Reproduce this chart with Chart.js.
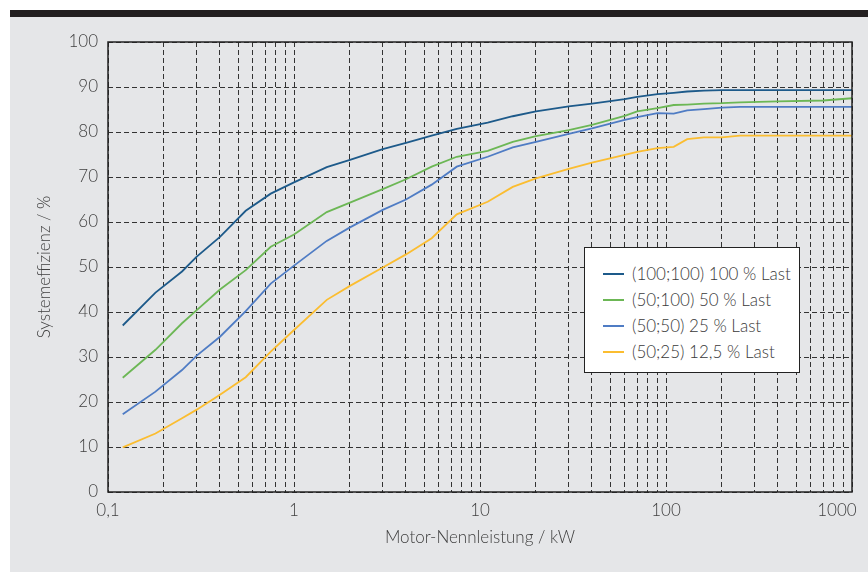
<!DOCTYPE html>
<html>
<head>
<meta charset="utf-8">
<script src="https://cdn.jsdelivr.net/npm/chart.js@4.4.1/dist/chart.umd.min.js"></script>
<style>
  body { margin: 0; background: #fff; }
  #bar { position: absolute; left: 10px; top: 10px; width: 858px; height: 7px; background: #231f20; }
  #panel { position: absolute; left: 10px; top: 17px; width: 858px; height: 555px; background: #e5e6e8; }
  #wrap { position: absolute; left: 0; top: 0; width: 868px; height: 572px; }
  #legend { position: absolute; left: 584px; top: 247px; width: 214px; height: 124px; border: 1px solid #222;
            background: #fff; font-family: Lato, sans-serif; font-size: 17px; font-weight: 300; color: #3a3a3a; box-sizing: content-box; }
  #legend div { position: absolute; left: 0; height: 20px; line-height: 20px; white-space: nowrap; }
  #legend span.sw { position: absolute; left: 18px; top: 9px; width: 21px; height: 2px; }
  #legend span.tx { position: absolute; left: 47px; top: 0; }
</style>
</head>
<body>
<div id="bar"></div>
<div id="panel"></div>
<div id="wrap"><canvas id="myChart" width="868" height="572"></canvas></div>
<div id="legend"></div>
<script>
// Motor rated power (kW), x positions of the readings
var power = [0.12,0.18,0.25,0.3,0.4,0.55,0.75,1,1.5,2,3,4,5.5,7.5,11,15,20,30,40,60,70,90,110,130,160,200,250,400,700,1000];
// System efficiency in %
var last100 = [37,44.3,49,52.3,56.7,62.5,66.3,68.8,72.2,73.8,76.2,77.6,79.2,80.7,82.1,83.5,84.6,85.7,86.3,87.3,87.8,88.4,88.7,89,89.2,89.3,89.3,89.3,89.3,89.3];
var last50 = [25.4,31.6,37.5,40.4,45,49.3,54.5,57.2,62.2,64.3,67.3,69.5,72.3,74.5,75.8,77.8,79.1,80.4,81.6,83.6,84.6,85.3,86,86.1,86.3,86.4,86.6,86.8,87,87.5];
var last25 = [17.3,22.3,27.1,30.3,34.5,40.2,46.3,50.3,55.8,58.8,62.7,65,68.3,72.3,74.5,76.6,77.8,79.6,80.8,82.7,83.3,84.2,84.1,84.8,85.1,85.4,85.6,85.6,85.6,85.6];
var last12 = [9.9,13,16.4,18.3,21.6,25.5,31.2,36,42.7,45.8,49.9,52.8,56.4,61.7,64.5,67.8,69.7,71.8,73.2,74.9,75.6,76.4,76.7,78.4,78.8,78.8,79.2,79.2,79.2,79.2];
// x-axis labels at the decades
var decades = [0.1,1,10,100,1000];
var decadeLabels = ['0,1','1','10','100','1000'];

function pts(ys) {
  return ys.map(function (y, i) { return { x: power[i], y: y }; });
}

var frame = {
  id: 'frame',
  afterDraw: function (chart) {
    var a = chart.chartArea, c = chart.ctx;
    c.save();
    c.strokeStyle = '#222';
    c.lineWidth = 1.5;
    c.strokeRect(a.left, a.top, a.right - a.left, a.bottom - a.top);
    c.restore();
  }
};

var ctx = document.getElementById('myChart');
var txt = '#404040';

var myChart = new Chart(ctx, {
  type: 'line',
  data: {
    datasets: [
      { data: pts(last100), label: '(100;100) 100 % Last', borderColor: '#1d5a8a' },
      { data: pts(last50), label: '(50;100) 50 % Last', borderColor: '#6cb755' },
      { data: pts(last25), label: '(50;50) 25 % Last', borderColor: '#4f7cc4' },
      { data: pts(last12), label: '(50;25) 12,5 % Last', borderColor: '#fbbd30' }
    ]
  },
  options: {
    responsive: false,
    animation: false,
    layout: { padding: { left: 10, top: 42, right: 16, bottom: 0 } },
    elements: {
      line: { borderWidth: 1.8, tension: 0, fill: false },
      point: { radius: 0 }
    },
    plugins: { legend: { display: false }, tooltip: { enabled: false } },
    scales: {
      x: {
        type: 'logarithmic',
        min: 0.1,
        max: 1000,
        afterBuildTicks: function (scale) {
          var t = [];
          for (var d = 0; d < decades.length - 1; d++) {
            for (var m = 1; m <= 9; m++) t.push({ value: decades[d] * m });
          }
          t.push({ value: 1000 });
          scale.ticks = t;
        },
        afterFit: function (scale) {
          scale.height = 80;
          scale.paddingLeft = 0;
          scale.paddingRight = 0;
        },
        ticks: {
          autoSkip: false,
          maxRotation: 0,
          padding: 8,
          color: txt,
          font: { family: 'Lato', size: 17, weight: 300 },
          callback: function (v) {
            var i = decades.findIndex(function (d) { return Math.abs(d - v) < d * 1e-6; });
            if (i < 0) return '';
            // last label sits inside the panel, pad it so it shifts left
            return i === decades.length - 1 ? decadeLabels[i] + '\u2002\u2002\u2002 ' : decadeLabels[i];
          }
        },
        grid: { color: '#333', lineWidth: 1, drawTicks: false },
        border: { display: false, dash: [5, 3] },
        title: {
          display: true,
          text: 'Motor-Nennleistung / kW',
          color: txt,
          font: { family: 'Lato', size: 17, weight: 300 },
          padding: { top: 0, bottom: 24 }
        }
      },
      y: {
        min: 0,
        max: 100,
        afterFit: function (scale) { scale.width = 98; },
        ticks: {
          stepSize: 10,
          padding: 10,
          color: txt,
          font: { family: 'Lato', size: 17, weight: 300 }
        },
        grid: { color: '#333', lineWidth: 1, drawTicks: false },
        border: { display: false, dash: [5, 3] },
        title: {
          display: true,
          text: 'Systemeffizienz / %',
          color: txt,
          font: { family: 'Lato', size: 17, weight: 300 },
          padding: { top: 24, bottom: 0 }
        }
      }
    }
  },
  plugins: [frame]
});

// HTML legend built from the chart's datasets
var leg = document.getElementById('legend');
myChart.data.datasets.forEach(function (ds, i) {
  var row = document.createElement('div');
  row.style.top = (16 + i * 26) + 'px';
  row.innerHTML = '<span class="sw" style="background:' + ds.borderColor + '"></span><span class="tx">' + ds.label + '</span>';
  leg.appendChild(row);
});
</script>
</body>
</html>
